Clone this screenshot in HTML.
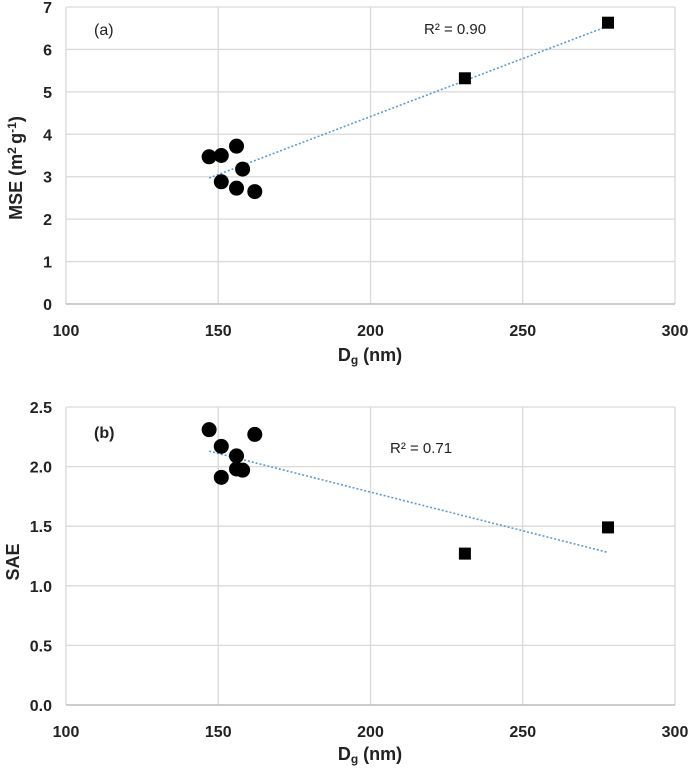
<!DOCTYPE html>
<html><head><meta charset="utf-8"><style>
body{margin:0;background:#fff;width:691px;height:768px;overflow:hidden}
svg{font-family:"Liberation Sans",sans-serif}
.tick{font-size:16px;font-weight:bold;fill:#222}
</style></head><body>
<svg id="c" width="691" height="768"></svg>
<script>
const xTicks=[100,150,200,250,300];
const aTicks=[0,1,2,3,4,5,6,7];
const bTicks=[0.0,0.5,1.0,1.5,2.0,2.5];
const circX=[147,151,156,158,151,156,162];
const mseCirc=[3.47,3.50,3.72,3.18,2.88,2.73,2.65];
const saeCircX=[147,151,156,156,158,151,162];
const saeCirc=[2.31,2.17,2.09,1.98,1.97,1.91,2.27];
const sqX=[231,278];
const mseSq=[5.32,6.63];
const saeSq=[1.27,1.49];
const mseTrend=[[147,2.97],[278,6.55]];
const saeTrend=[[147,2.13],[278,1.28]];
const NS="http://www.w3.org/2000/svg";
const svg=document.getElementById('c');
function mk(t,a,p){const e=document.createElementNS(NS,t);for(const k in a)e.setAttribute(k,a[k]);(p||svg).appendChild(e);return e;}
const X=v=>66+(v-100)/200*609;
function panel(top,bot,ymax,yt,dec,cx,cy,sy,tr,name){
  const Y=v=>bot-(v/ymax)*(bot-top);
  const g=mk('g',{});
  
  
  yt.forEach(v=>{const l=mk('line',{x1:66,x2:675,y1:Y(v),y2:Y(v),stroke:'#d9d9d9','stroke-width':1.3},g);
    
    const t=mk('text',{x:52,y:Y(v)+6,'text-anchor':'end',class:'tick'},g);t.textContent=dec?v.toFixed(1):v;
    });
  xTicks.forEach(v=>{const l=mk('line',{x1:X(v),x2:X(v),y1:top,y2:bot,stroke:'#d9d9d9','stroke-width':1.3},g);
    
    const t=mk('text',{x:X(v),y:bot+32,'text-anchor':'middle',class:'tick'},g);t.textContent=v;
    });
  mk('line',{x1:66,x2:675,y1:bot,y2:bot,stroke:'#bfbfbf','stroke-width':1.5},g);
  const tl=mk('line',{x1:X(tr[0][0]),y1:Y(tr[0][1]),x2:X(tr[1][0]),y2:Y(tr[1][1]),stroke:'#5b9bd5','stroke-width':1.6,'stroke-dasharray':'2,2'},g);
  
  cx.forEach((x,i)=>{const c=mk('circle',{cx:X(x),cy:Y(cy[i]),r:7.5,fill:'#000'},g);
    });
  sqX.forEach((x,i)=>{const r=mk('rect',{x:X(x)-6,y:Y(sy[i])-6,width:12,height:12,fill:'#000'},g);
    });
}
panel(7,304,7,aTicks,false,circX,mseCirc,mseSq,mseTrend,'a');
panel(407,705,2.5,bTicks,true,saeCircX,saeCirc,saeSq,saeTrend,'b');
</script>
<svg width="691" height="768" style="position:absolute;left:0;top:0">
<text x="94" y="35" font-size="16" fill="#222" style="font-family:'Liberation Sans',sans-serif">(a)</text>
<text x="94" y="438" font-size="16" font-weight="bold" fill="#222" style="font-family:'Liberation Sans',sans-serif">(b)</text>
<text x="424" y="34" font-size="15" fill="#222" style="font-family:'Liberation Sans',sans-serif">R² = 0.90</text>
<text x="390" y="453" font-size="15" fill="#222" style="font-family:'Liberation Sans',sans-serif">R² = 0.71</text>
<text x="370" y="361" text-anchor="middle" font-size="18" font-weight="bold" fill="#222" style="font-family:'Liberation Sans',sans-serif">D<tspan font-size="12" dy="3">g</tspan><tspan dy="-3"> (nm)</tspan></text>
<text x="370" y="760" text-anchor="middle" font-size="18" font-weight="bold" fill="#222" style="font-family:'Liberation Sans',sans-serif">D<tspan font-size="12" dy="3">g</tspan><tspan dy="-3"> (nm)</tspan></text>
<text transform="translate(22,168) rotate(-90)" text-anchor="middle" font-size="18" font-weight="bold" fill="#222" style="font-family:'Liberation Sans',sans-serif">MSE (m<tspan font-size="12" dy="-6">2 </tspan><tspan dy="6">g</tspan><tspan font-size="12" dy="-6">-1</tspan><tspan dy="6">)</tspan></text>
<text transform="translate(19,562) rotate(-90)" text-anchor="middle" font-size="18" font-weight="bold" fill="#222" style="font-family:'Liberation Sans',sans-serif">SAE</text>
</svg>
</body></html>
